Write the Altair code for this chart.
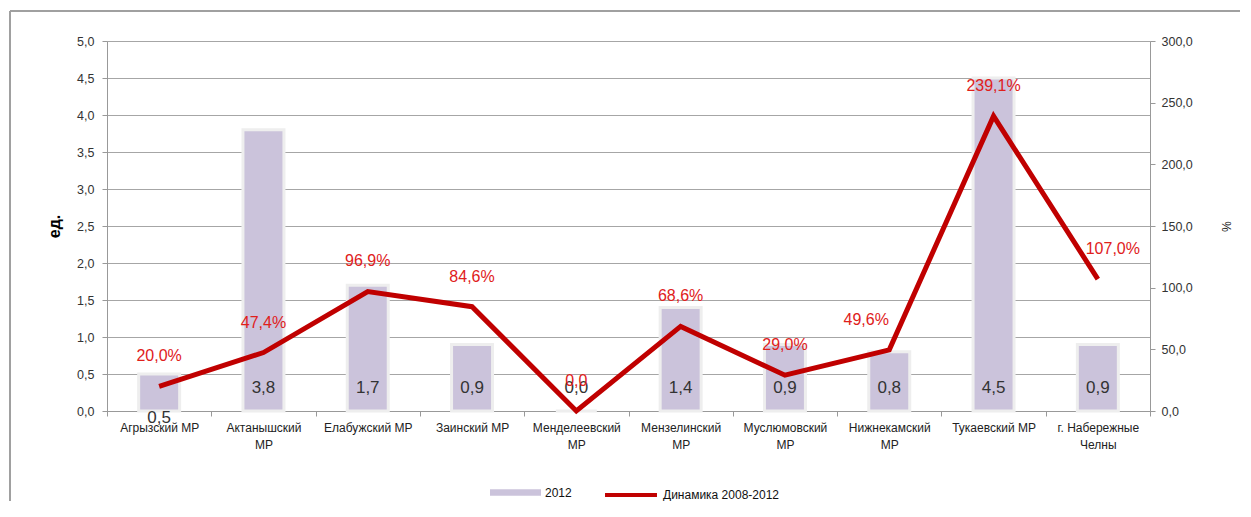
import altair as alt
import pandas as pd

categories = ["Агрызский МР", "Актанышский\nМР", "Елабужский МР", "Заинский МР",
              "Менделеевский\nМР", "Мензелинский\nМР", "Муслюмовский\nМР",
              "Нижнекамский\nМР", "Тукаевский МР", "г. Набережные\nЧелны"]
units_2012 = [0.5, 3.8, 1.7, 0.9, 0.0, 1.4, 0.9, 0.8, 4.5, 0.9]
dynamics = [20.0, 47.4, 96.9, 84.6, 0.0, 68.6, 29.0, 49.6, 239.1, 107.0]
left_ticks = [0, 0.5, 1, 1.5, 2, 2.5, 3, 3.5, 4, 4.5, 5]
right_ticks = [0, 50, 100, 150, 200, 250, 300]

df = pd.DataFrame({"cat": categories, "v": units_2012, "dyn": dynamics,
                   "s1": "2012", "s2": "Динамика 2008-2012"})

W, H = 1043, 370
FONT = "Liberation Sans"
BAR = "#CBC3DB"
RED = "#C00000"

x = alt.X("cat:N", sort=categories, title=None,
          scale=alt.Scale(paddingInner=0, paddingOuter=0),
          axis=alt.Axis(labelExpr="split(datum.label, '\\n')", labelAngle=0,
                        labelFont=FONT, labelFontSize=12, labelColor="#222",
                        labelPadding=6, labelLineHeight=17,
                        tickBand="extent", tickColor="#999", tickSize=5,
                        domainColor="#999", grid=False))

right_y = alt.Y("dyn:Q", scale=alt.Scale(domain=[0, 300]), title="%",
                axis=alt.Axis(orient="right", values=right_ticks, grid=False,
                              labelExpr="replace(format(datum.value, '.1f'), '.', ',')",
                              labelFont=FONT, labelFontSize=12.5, labelColor="#333",
                              labelPadding=6,
                              tickColor="#999", tickSize=5, domainColor="#999",
                              titleFont=FONT, titleFontSize=12, titleFontWeight="normal",
                              titleColor="#111", titleX=68, titleY=H / 2))

base = alt.Chart(df)

bars = base.mark_bar(size=41, stroke="#eeeeee", strokeWidth=3).encode(
    x=x,
    y=alt.Y("v:Q", scale=alt.Scale(domain=[0, 5]), title="ед.",
            axis=alt.Axis(values=left_ticks,
                          labelExpr="replace(format(datum.value, '.1f'), '.', ',')",
                          labelFont=FONT, labelFontSize=12.5, labelColor="#333",
                          labelPadding=8,
                          tickColor="#999", tickSize=5, domainColor="#999",
                          gridColor="#a6a6a6", gridWidth=1,
                          titleFont=FONT, titleFontSize=16, titleFontWeight="bold",
                          titleColor="#000", titleX=-45, titleY=H / 2)),
    fill=alt.Fill("s1:N", title=None,
                  scale=alt.Scale(domain=["2012"], range=[BAR]),
                  legend=alt.Legend(orient="none", legendX=383, legendY=426,
                                    symbolType="M-1,-0.13H1V0.13H-1Z",
                                    symbolSize=2600, symbolStrokeWidth=0,
                                    labelFont=FONT, labelFontSize=12,
                                    labelColor="#111", labelOffset=4, padding=0)),
)

bar_labels = base.mark_text(font=FONT, fontSize=17, color="#333",
                            baseline="middle").transform_calculate(
    lbl="replace(format(datum.v, '.1f'), '.', ',')",
    ly=f"datum.v > 0 && datum.v < 0.6 ? {H + 7} : {H - 23}",
).encode(x=x, y=alt.Y("ly:Q", scale=None), text="lbl:N")

line = base.mark_line(strokeWidth=5, strokeJoin="miter").encode(
    x=x,
    y=right_y,
    stroke=alt.Stroke("s2:N", title=None,
                      scale=alt.Scale(domain=["Динамика 2008-2012"], range=[RED]),
                      legend=alt.Legend(orient="none", legendX=496, legendY=426,
                                        symbolType="stroke", symbolSize=2700,
                                        symbolStrokeWidth=4,
                                        labelFont=FONT, labelFontSize=12,
                                        labelColor="#111", labelOffset=4, padding=0)),
)

line_labels = base.mark_text(font=FONT, fontSize=16, color="#E0201B",
                             baseline="middle", dy=-30).transform_calculate(
    lbl="datum.dyn == 0 ? '0,0' : replace(format(datum.dyn, '.1f'), '.', ',') + '%'",
    off=f"{W / 20} + (datum.dyn == 49.6 ? -23 : (datum.dyn == 107 ? 15 : 0))",
).encode(
    x=x,
    xOffset=alt.XOffset("off:Q", scale=None),
    y=right_y,
    text="lbl:N",
)

frame_left = alt.Chart(df).mark_rule(color="#a0a0a0", strokeWidth=2).encode(
    x=alt.value(-97), y=alt.value(-30), y2=alt.value(H + 200))
frame_top = alt.Chart(df).mark_rule(color="#a0a0a0", strokeWidth=2).encode(
    x=alt.value(-97), x2=alt.value(W + 200), y=alt.value(-30))

left_layer = alt.layer(bars, bar_labels)
right_layer = alt.layer(line, line_labels)

chart = alt.layer(left_layer, right_layer, frame_left, frame_top).resolve_scale(
    y="independent", fill="independent", stroke="independent"
).properties(
    width=W, height=H,
    autosize=alt.AutoSizeParams(type="none"),
    padding={"left": 99, "top": 33, "right": 90, "bottom": 90},
).configure_view(stroke=None).configure(font=FONT)

chart.save("out.html", embed_options={"renderer": "svg", "actions": False})
